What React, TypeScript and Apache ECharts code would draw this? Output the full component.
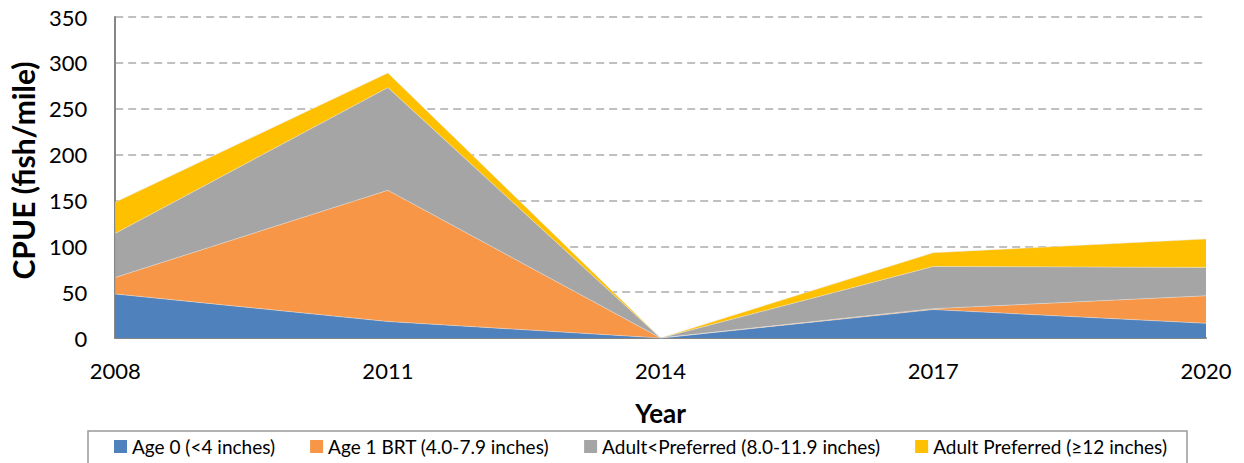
import React, { useEffect, useRef } from "react";
import * as echarts from "echarts";

const years = ["2008", "2011", "2014", "2017", "2020"];
const seriesNames = [
  "Age 0 (<4 inches)",
  "Age 1 BRT (4.0-7.9 inches)",
  "Adult<Preferred (8.0-11.9 inches)",
  "Adult Preferred (≥12 inches)",
];
const age0 = [48, 18, 0, 31, 16];
const age1 = [18, 143, 0, 1, 30];
const adultLess = [48, 112, 0, 46, 31];
const adultPref = [34, 16, 0, 15, 31];
const colors = ["#4F81BD", "#F79646", "#A5A5A5", "#FFC000"];
const yTicks = { min: 0, max: 350, interval: 50 };

const FONT = "Lato, 'Noto Sans', sans-serif";

export default function App() {
  const ref = useRef<HTMLDivElement>(null);
  useEffect(() => {
    const chart = echarts.init(ref.current!, null, { renderer: "svg" });
    const data = [age0, age1, adultLess, adultPref];
    chart.setOption({
      animation: false,
      textStyle: { fontFamily: FONT },
      grid: { left: 110, right: 38, top: 17, bottom: 125 },
      legend: {
        top: 431,
        left: 88,
        data: seriesNames,
        itemWidth: 13,
        itemHeight: 13,
        itemGap: 35,
        icon: "rect",
        borderColor: "#999",
        borderWidth: 1.5,
        padding: [6, 20, 8, 26],
        textStyle: { fontSize: 19, color: "#000", fontFamily: FONT },
      },
      xAxis: {
        type: "category",
        data: years,
        boundaryGap: false,
        name: "Year",
        nameLocation: "middle",
        nameGap: 62,
        nameTextStyle: { fontSize: 26, fontWeight: "bold", color: "#000", fontFamily: FONT },
        axisLine: { lineStyle: { color: "#868686", width: 2 } },
        axisTick: { show: false },
        axisLabel: { fontSize: 22, color: "#000", margin: 21, fontFamily: FONT },
        splitLine: { show: false },
      },
      yAxis: {
        type: "value",
        min: yTicks.min,
        max: yTicks.max,
        interval: yTicks.interval,
        name: "CPUE (fish/mile)",
        nameLocation: "middle",
        nameGap: 72,
        nameTextStyle: { fontSize: 30, fontWeight: "bold", color: "#000", fontFamily: FONT, padding: [0, 0, 0, 14] },
        axisLine: { show: true, lineStyle: { color: "#868686", width: 2 } },
        axisTick: { show: false },
        axisLabel: { fontSize: 22, color: "#000", margin: 28, fontFamily: FONT },
        splitLine: { show: true, lineStyle: { color: "#C0C0C0", type: [8, 5], width: 2 } },
      },
      series: seriesNames.map((name, i) => ({
        name,
        type: "line",
        stack: "total",
        data: data[i],
        showSymbol: false,
        symbol: "none",
        lineStyle: { width: 0.8, color: "#e8e8e8", opacity: 0.6 },
        itemStyle: { color: colors[i] },
        areaStyle: { color: colors[i], opacity: 1 },
      })),
    });
    return () => chart.dispose();
  }, []);
  return <div ref={ref} style={{ width: 1244, height: 463, position: "absolute", left: 0, top: 0 }} />;
}
